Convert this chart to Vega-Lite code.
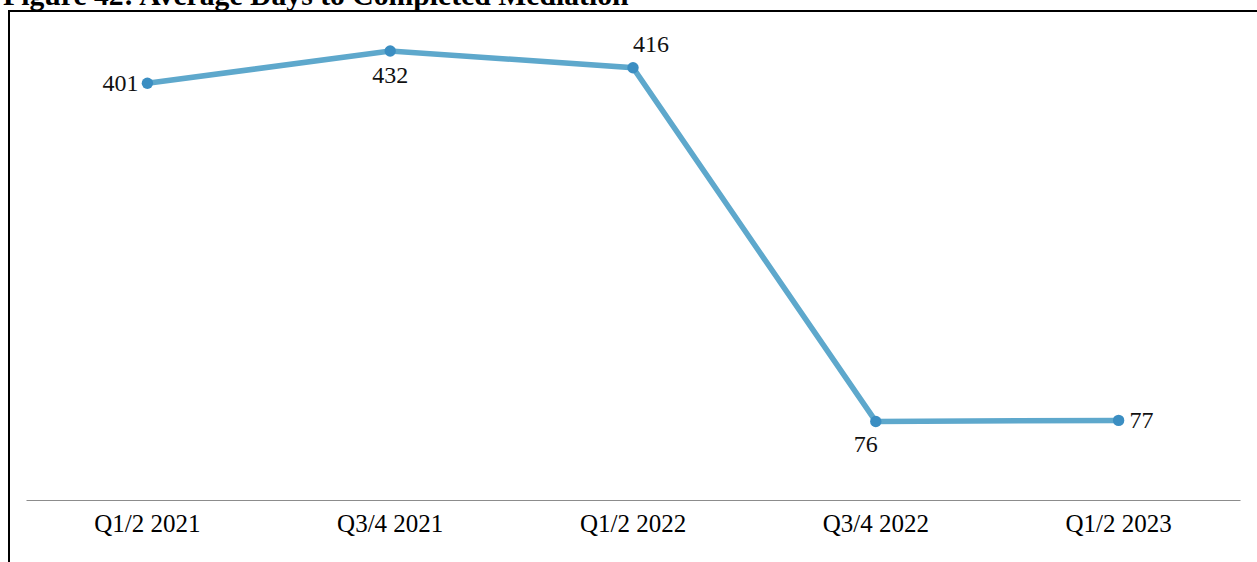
{
  "$schema": "https://vega.github.io/schema/vega-lite/v6.json",
  "width": 1260,
  "height": 560,
  "autosize": {"type": "none"},
  "padding": {"left": 9, "top": 11, "right": -12, "bottom": -9},
  "title": {
    "text": "Figure 42: Average Days to Completed Mediation",
    "anchor": "start",
    "frame": "group",
    "font": "Liberation Serif",
    "fontSize": 29.7,
    "fontWeight": "bold",
    "color": "#000000",
    "baseline": "alphabetic",
    "offset": 0,
    "dx": -6,
    "dy": 24
  },
  "config": {
    "view": {"stroke": "#000000", "strokeWidth": 2},
    "font": "Liberation Serif"
  },
  "data": {
    "values": [
      {"period": "Q1/2 2021", "days": 401},
      {"period": "Q3/4 2021", "days": 432},
      {"period": "Q1/2 2022", "days": 416},
      {"period": "Q3/4 2022", "days": 76},
      {"period": "Q1/2 2023", "days": 77}
    ]
  },
  "encoding": {
    "x": {
      "field": "period",
      "type": "ordinal",
      "sort": null,
      "scale": {"type": "band", "range": [17, 1231], "paddingInner": 0, "paddingOuter": 0},
      "axis": {
        "title": null,
        "orient": "bottom",
        "offset": -71,
        "domainColor": "#8c8c8c",
        "domainWidth": 1.2,
        "ticks": false,
        "tickSize": 0,
        "grid": false,
        "labelAngle": 0,
        "labelFont": "Liberation Serif",
        "labelFontSize": 25,
        "labelColor": "#000000",
        "labelPadding": 11
      }
    },
    "y": {
      "field": "days",
      "type": "quantitative",
      "scale": {"domain": [0, 470], "range": [489.5, 0.5]},
      "axis": null
    }
  },
  "layer": [
    {"mark": {"type": "line", "color": "#5ea8cc", "strokeWidth": 5.5}},
    {"mark": {"type": "point", "filled": true, "color": "#3b8ec2", "size": 130, "opacity": 1}},
    {
      "transform": [{"filter": "datum.period === 'Q1/2 2021'"}],
      "mark": {"type": "text", "align": "right", "baseline": "middle", "dx": -9, "dy": 1, "fontSize": 24, "color": "#111111"},
      "encoding": {"text": {"field": "days", "type": "quantitative"}}
    },
    {
      "transform": [{"filter": "datum.period === 'Q3/4 2021'"}],
      "mark": {"type": "text", "align": "center", "baseline": "middle", "dy": 25, "fontSize": 24, "color": "#111111"},
      "encoding": {"text": {"field": "days", "type": "quantitative"}}
    },
    {
      "transform": [{"filter": "datum.period === 'Q1/2 2022'"}],
      "mark": {"type": "text", "align": "left", "baseline": "middle", "dx": 0, "dy": -23, "fontSize": 24, "color": "#111111"},
      "encoding": {"text": {"field": "days", "type": "quantitative"}}
    },
    {
      "transform": [{"filter": "datum.period === 'Q3/4 2022'"}],
      "mark": {"type": "text", "align": "center", "baseline": "middle", "dx": -10, "dy": 24, "fontSize": 24, "color": "#111111"},
      "encoding": {"text": {"field": "days", "type": "quantitative"}}
    },
    {
      "transform": [{"filter": "datum.period === 'Q1/2 2023'"}],
      "mark": {"type": "text", "align": "left", "baseline": "middle", "dx": 11, "dy": 1, "fontSize": 24, "color": "#111111"},
      "encoding": {"text": {"field": "days", "type": "quantitative"}}
    }
  ]
}
